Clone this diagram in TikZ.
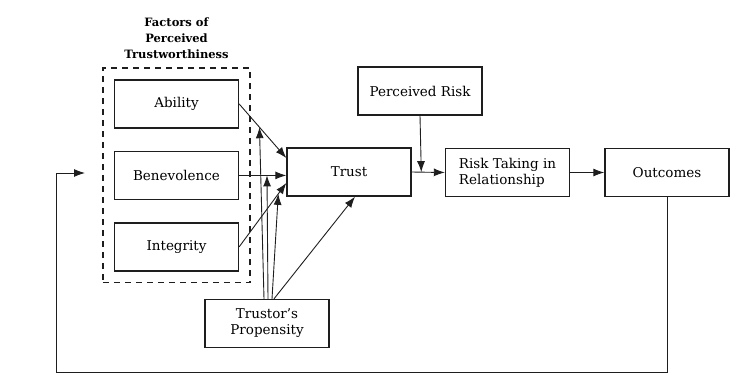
\documentclass[tikz,border=0pt]{standalone}
\usepackage{fontspec}
\setmainfont{DejaVu Serif}
\usepackage{tikz}
\usetikzlibrary{arrows.meta,positioning,fit}
\definecolor{inkgray}{RGB}{30,30,30}

\begin{document}
\begin{tikzpicture}[
    x=1pt,y=-1pt,
    node distance=22pt,
    every node/.style={font=\fontsize{13.5}{16}\selectfont},
    box/.style={rectangle,draw=inkgray,line width=1.4pt,
      minimum width=124pt,minimum height=48pt,align=center},
    group/.style={rectangle,draw=inkgray,line width=1.8pt,dash pattern=on 6pt off 5pt,
      inner sep=11pt},
    arrow/.style={-{Latex[length=11pt,width=8pt]},draw=inkgray,line width=0.9pt}
  ]
    \useasboundingbox (0,0) rectangle (752,389);

    \node[box] (ability) at (176.5,104) {Ability};
    \node[box,below=of ability] (benev) {Benevolence};
    \node[box,below=of benev] (integ) {Integrity};
    \node[group,fit=(ability)(integ)] (factors) {};
    \node[font=\bfseries\fontsize{11.5}{16}\selectfont,align=center,above=5pt of factors]
      (title) {Factors of\\Perceived\\Trustworthiness};

    \node[box] (trust) at (349,172) {Trust};
    \node[box] (risk) at (420,91) {Perceived Risk};
    \node[box,align=left] (risktake) at (507.5,172.5) {Risk Taking in\\Relationship};
    \node[box] (outcomes) at (667,172.5) {Outcomes};
    \node[box] (prop) at (267,323.5) {Trustor's\\Propensity};
    \coordinate (loopend) at (85,173);

    \draw[arrow] (ability.east) -- coordinate[pos=0.43] (abmid) ([yshift=14pt]trust.west);
    \draw[arrow] (benev.east) -- coordinate[pos=0.59] (bemid) (trust.west |- benev.east);
    \draw[arrow] (integ.east) -- coordinate[pos=0.83] (inmid) ([yshift=-11pt]trust.west);

    \draw[arrow] ([xshift=-3pt]prop.north) -- (abmid);
    \draw[arrow] ([xshift=1pt]prop.north) -- (bemid);
    \draw[arrow] ([xshift=5pt]prop.north) -- (inmid);
    \draw[arrow] ([xshift=7pt]prop.north) -- ([xshift=6pt]trust.south);

    \draw[arrow] (trust.east) -- coordinate[pos=0.29] (trmid) (risktake.west);
    \draw[arrow] (risk.south) -- (trmid);
    \draw[arrow] (risktake.east) -- (outcomes.west);
    \draw[arrow] (outcomes.south) |- (56,372) |- (loopend);
  \end{tikzpicture}
\end{document}
